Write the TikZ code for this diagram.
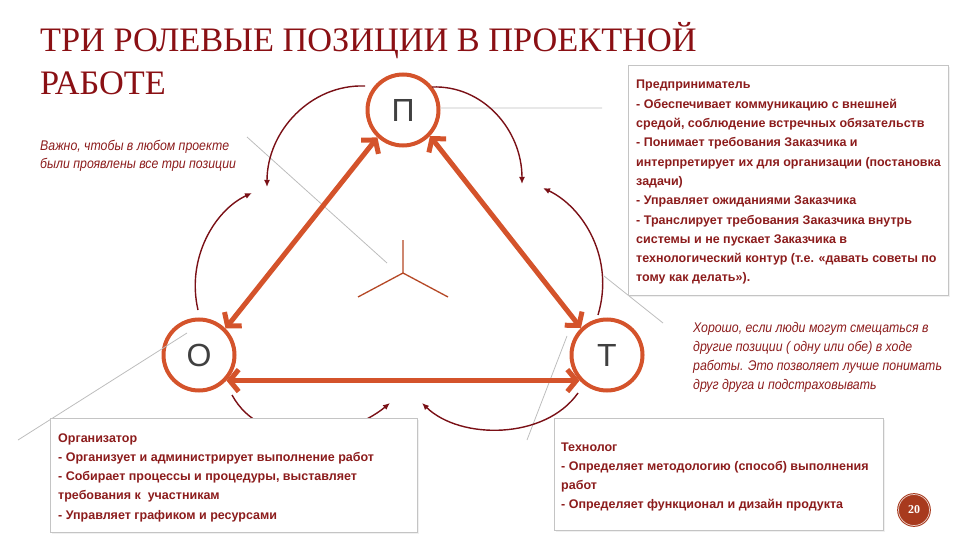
\documentclass[tikz,border=0pt]{standalone}
\usepackage{fontspec}
\setmainfont{Liberation Serif}
\newfontfamily\boxfont{Liberation Sans}
\newfontfamily\notefont{Liberation Sans}[FakeStretch=0.88]
\usetikzlibrary{arrows.meta,shadows}
\definecolor{titlered}{HTML}{8A1014}
\definecolor{txtred}{HTML}{8C1C1C}
\definecolor{orng}{HTML}{D4532B}
\definecolor{arcred}{HTML}{7A1016}
\definecolor{boxgrey}{HTML}{C4C4C4}
\definecolor{lettergrey}{HTML}{404040}
\definecolor{pagered}{HTML}{A83A1E}
\definecolor{callout}{HTML}{BDBDBD}
\newcommand{\txtlines}[1]{\begin{tabular}[t]{@{}l@{}}#1\end{tabular}}
\begin{document}
\begin{tikzpicture}[x=1pt,y=-1pt,
  role/.style={circle, draw=orng, line width=4pt, minimum size=71pt, inner sep=0pt,
    font=\boxfont\fontsize{32}{36}\selectfont, text=lettergrey},
  link/.style={draw=orng, line width=5pt,
    {Straight Barb[length=9pt,width=22pt]}-{Straight Barb[length=9pt,width=22pt]}},
  cyc/.style={draw=arcred, line width=1.4pt, -{Latex[length=7pt,width=6pt]}},
  callline/.style={draw=callout, line width=0.8pt},
  infobox/.style={draw=boxgrey, line width=0.8pt, fill=white, rectangle, inner sep=0pt,
    anchor=north west, drop shadow={opacity=0.12, shadow xshift=1.5pt, shadow yshift=-1.5pt}},
  boxtext/.style={anchor=base west, inner sep=0pt, text=txtred,
    font=\boxfont\bfseries\fontsize{12.5}{19.3}\selectfont},
  note/.style={anchor=base west, inner sep=0pt, text=txtred,
    font=\notefont\itshape\fontsize{14}{19}\selectfont},
]
\useasboundingbox (0,0) rectangle (960,540);

% title
\node[anchor=base west, inner sep=0pt, text=titlered, font=\fontsize{34.3}{43}\selectfont]
  (title) at (40,52) {\txtlines{ТРИ РОЛЕВЫЕ ПОЗИЦИИ В ПРОЕКТНОЙ\\РАБОТЕ}};

% role circles
\node[role] (P) at (403,110) {П};
\node[role] (O) at (199,355) {О};
\node[role] (T) at (607,355) {Т};

% callout lines
\coordinate (g1e) at (602,108);
\coordinate (g2s) at (247,137);
\coordinate (g2e) at (387,263);
\coordinate (g3s) at (18,440);
\coordinate (g3e) at (187,333);
\coordinate (g4s) at (567,336);
\coordinate (g4e) at (527,440);
\coordinate (g5s) at (604,276);
\coordinate (g5e) at (663,323);
\draw[callline] (P.3) -- (g1e);
\draw[callline] (g2s) -- (g2e);
\draw[callline] (g3s) -- (g3e);
\draw[callline] (g4s) -- (g4e);
\draw[callline] (g5s) -- (g5e);

% cycle arcs
\coordinate (a1s) at (365,86);  \coordinate (a1e) at (267,187);
\coordinate (a2s) at (432,87);  \coordinate (a2e) at (522,184);
\coordinate (a3s) at (198,310); \coordinate (a3e) at (252,193);
\coordinate (a4s) at (598,315); \coordinate (a4e) at (543,188);
\coordinate (a5s) at (232,395); \coordinate (a5e) at (390,403);
\coordinate (a6s) at (578,393); \coordinate (a6e) at (422,403);
\draw[cyc] (a1s) .. controls (311,84) and (267,131) .. (a1e);
\draw[cyc] (a2s) .. controls (483,85) and (522,130) .. (a2e);
\draw[cyc] (a3s) .. controls (186,258) and (215,210) .. (a3e);
\draw[cyc] (a4s) .. controls (615,258) and (583,207) .. (a4e);
\draw[cyc] (a5s) .. controls (262,450) and (345,440) .. (a5e);
\draw[cyc] (a6s) .. controls (545,440) and (460,440) .. (a6e);

% thick links
\draw[link] (P.227) -- (O.45);
\draw[link] (P.316) -- (T.134);
\draw[link] (O.317) -- (T.223);

% centre mark
\coordinate (ytop) at (403,240);
\coordinate (yc) at (403,273);
\coordinate (yl) at (358,297);
\coordinate (yr) at (448,297);
\draw[orng!85!black, line width=1.3pt] (ytop) -- (yc) -- (yl) (yc) -- (yr);

% boxes
\node[infobox, minimum width=320pt, minimum height=230pt] (entbox) at (628,65) {};
\node[infobox, minimum width=367pt, minimum height=114pt] (orgbox) at (50,418) {};
\node[infobox, minimum width=329pt, minimum height=112pt] (techbox) at (554,418) {};

\node[boxtext] (enttext) at (636,89) {\txtlines{Предприниматель\\
- Обеспечивает коммуникацию с внешней\\
средой, соблюдение встречных обязательств\\
- Понимает требования Заказчика и\\
интерпретирует их для организации (постановка\\
задачи)\\
- Управляет ожиданиями Заказчика\\
- Транслирует требования Заказчика внутрь\\
системы и не пускает Заказчика в\\
технологический контур (т.е. «давать советы по\\
тому как делать»).}};

\node[boxtext] (orgtext) at (58,442) {\txtlines{Организатор\\
- Организует и администрирует выполнение работ\\
- Собирает процессы и процедуры, выставляет\\
требования к\ \ участникам\\
- Управляет графиком и ресурсами}};

\node[boxtext] (techtext) at (561,451) {\txtlines{Технолог\\
- Определяет методологию (способ) выполнения\\
работ\\
- Определяет функционал и дизайн продукта}};

% notes
\node[note, font=\notefont\itshape\fontsize{14}{18}\selectfont] (note1) at (40,151)
  {\txtlines{Важно, чтобы в любом проекте\\были проявлены все три позиции}};
\node[note] (note2) at (693,332) {\txtlines{Хорошо, если люди могут смещаться в\\
другие позиции ( одну или обе) в ходе\\
работы. Это позволяет лучше понимать\\
друг друга и подстраховывать}};

% page number
\node[circle, fill=pagered, draw=pagered, double=white!75!pagered, double distance=0.7pt,
  line width=1pt, minimum size=31pt, inner sep=0pt, text=white,
  font=\bfseries\fontsize{12}{14}\selectfont] (pg) at (914,510) {20};
\end{tikzpicture}
\end{document}
